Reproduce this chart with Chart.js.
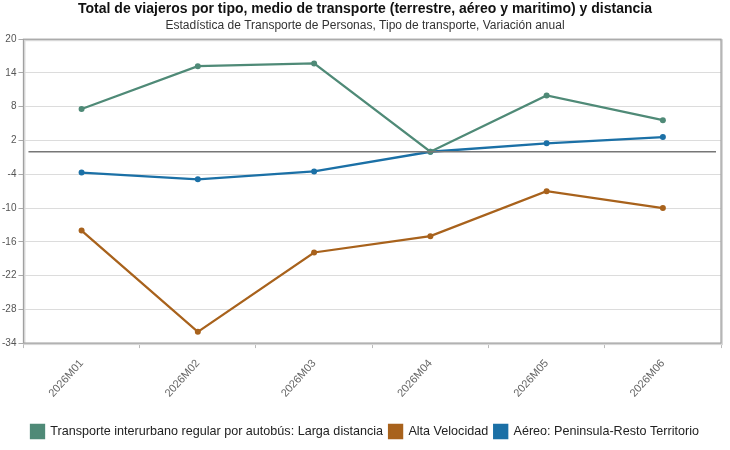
<!DOCTYPE html>
<html>
<head>
<meta charset="utf-8">
<script src="https://cdn.jsdelivr.net/npm/chart.js@4"></script>
<style>
  html, body { margin: 0; padding: 0; background: #fff; }
  #wrap { width: 730px; height: 450px; }
</style>
</head>
<body>
<div id="wrap"><canvas id="myLineChart"></canvas></div>
<script>
// Chart data
var periods = ['2026M01', '2026M02', '2026M03', '2026M04', '2026M05', '2026M06'];
var busValues = [7.6, 15.2, 15.7, 0.0, 10.0, 5.6];
var highSpeedValues = [-14.0, -32.0, -17.9, -15.0, -7.0, -10.0];
var airValues = [-3.7, -4.9, -3.5, 0.0, 1.5, 2.6];
var yTicks = [20, 14, 8, 2, -4, -10, -16, -22, -28, -34];

var seriesNames = [
  'Transporte interurbano regular por autobús: Larga distancia',
  'Alta Velocidad',
  'Aéreo: Peninsula-Resto Territorio'
];

document.addEventListener('DOMContentLoaded', function () {
  var ctx = document.getElementById('myLineChart').getContext('2d');

  function makeDataset(label, values, color) {
    return {
      label: label,
      data: values,
      borderColor: color,
      backgroundColor: color,
      borderWidth: 2.3,
      pointRadius: 3,
      pointBackgroundColor: color,
      pointBorderWidth: 0,
      tension: 0,
      fill: false
    };
  }

  // frame around the plot area and the zero line
  var framePlugin = {
    id: 'framePlugin',
    afterDatasetsDraw: function (chart) {
      var a = chart.chartArea;
      var c = chart.ctx;
      var y0 = chart.scales.y.getPixelForValue(0);
      c.save();
      c.strokeStyle = '#777';
      c.lineWidth = 1.3;
      c.beginPath();
      c.moveTo(a.left + 5, y0);
      c.lineTo(a.right - 5, y0);
      c.stroke();
      c.restore();
    },
    beforeDatasetsDraw: function (chart) {
      var a = chart.chartArea;
      var c = chart.ctx;
      c.save();
      c.strokeStyle = '#d8d8d8';
      c.lineWidth = 2;
      c.strokeRect(a.left + 1, a.top + 1, a.right - a.left, a.bottom - a.top);
      c.strokeStyle = '#a0a0a0';
      c.lineWidth = 1.2;
      c.strokeRect(a.left, a.top, a.right - a.left, a.bottom - a.top);
      c.restore();
    }
  };

  new Chart(ctx, {
    type: 'line',
    data: {
      labels: periods,
      datasets: [
        makeDataset(seriesNames[0], busValues, '#4f8a77'),
        makeDataset(seriesNames[1], highSpeedValues, '#a8621c'),
        makeDataset(seriesNames[2], airValues, '#1b70a6')
      ]
    },
    plugins: [framePlugin],
    options: {
      responsive: true,
      maintainAspectRatio: false,
      animation: false,
      layout: { padding: { left: 0, right: 0, top: 0, bottom: 2 } },
      plugins: {
        title: {
          display: true,
          text: 'Total de viajeros por tipo, medio de transporte (terrestre, aéreo y maritimo) y distancia',
          color: '#111',
          font: { family: 'Liberation Sans', size: 14, weight: 'bold' },
          padding: { top: 1, bottom: 1 }
        },
        subtitle: {
          display: true,
          text: 'Estadística de Transporte de Personas, Tipo de transporte, Variación anual',
          color: '#333',
          font: { family: 'Liberation Sans', size: 12 },
          padding: { top: 0, bottom: 6 }
        },
        legend: {
          display: true,
          position: 'bottom',
          labels: {
            boxWidth: 13,
            boxHeight: 13,
            padding: 6,
            color: '#222',
            font: { family: 'Liberation Sans', size: 12.6 }
          }
        },
        tooltip: { enabled: false }
      },
      scales: {
        x: {
          offset: true,
          grid: {
            offset: true,
            drawOnChartArea: false,
            drawTicks: true,
            tickLength: 5,
            color: '#bbb'
          },
          border: { display: false },
          ticks: {
            maxRotation: 48,
            minRotation: 48,
            color: '#666',
            padding: 9,
            font: { family: 'Liberation Sans', size: 11 }
          },
          afterFit: function (axis) {
            axis.height += 10; // room between the labels and the legend
          }
        },
        y: {
          min: -34,
          max: 20,
          afterBuildTicks: function (axis) {
            axis.ticks = yTicks.map(function (v) { return { value: v }; });
          },
          grid: {
            color: '#dcdcdc',
            tickLength: 5,
            tickColor: '#aaa'
          },
          border: { display: false },
          ticks: {
            color: '#555',
            padding: 2,
            font: { family: 'Liberation Sans', size: 10 }
          }
        },
        // empty right axis, only keeps a small margin right of the plot
        yRight: {
          position: 'right',
          grid: { display: false },
          border: { display: false },
          ticks: { display: false },
          afterFit: function (axis) {
            axis.width = 9;
          }
        }
      }
    }
  });
});
</script>
</body>
</html>
